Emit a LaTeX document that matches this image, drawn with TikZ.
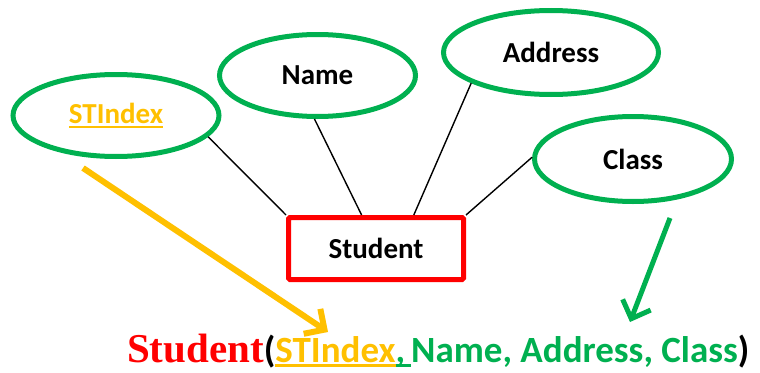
\documentclass[tikz,border=0pt]{standalone}
\usepackage{fontspec}
\setmainfont{Carlito}
\newfontfamily\redserif{Liberation Serif}
\usetikzlibrary{shapes.geometric,arrows.meta,calc}
\definecolor{ergreen}{HTML}{00B050}
\definecolor{eryellow}{HTML}{FFC000}
\definecolor{erred}{HTML}{FF0000}
\newsavebox\ulbox
\newcommand\ulin[2]{\sbox\ulbox{#2}\rlap{\color{#1}\rule[-5pt]{\wd\ulbox}{2.6pt}}\usebox\ulbox}
\begin{document}
\begin{tikzpicture}[x=1pt,y=-1pt,
  attr/.style={ellipse,draw=ergreen,line width=5pt,inner sep=0pt,font=\fontsize{29}{32}\selectfont\bfseries},
  entity/.style={rectangle,draw=erred,line width=5pt,rounded corners=1.5pt,inner sep=0pt,minimum width=175pt,minimum height=62pt,font=\fontsize{29}{32}\selectfont\bfseries},
  link/.style={line width=1.4pt,black},
  bigarrow/.style={line width=#1,-{Straight Barb[length=15pt,width=30pt]}}]
\useasboundingbox (0,0) rectangle (760,372);
\node[attr,minimum width=206pt,minimum height=82pt] (sti) at (116,115.5) {\ulin{eryellow}{\color{eryellow}STIndex}};
\node[attr,minimum width=196pt,minimum height=82pt] (nm) at (317.5,75.5) {Name};
\node[attr,minimum width=215pt,minimum height=84pt] (adr) at (551,52.5) {Address};
\node[attr,minimum width=197pt,minimum height=85pt] (cls) at (633,159) {Class};
\node[entity] (st) at (376,248.5) {Student};
\coordinate (nmend) at ($(st.north west)!0.42!(st.north east)$);
\coordinate (adrend) at ($(st.north west)!0.71!(st.north east)$);
\draw[link] (sti.-13) -- (st.north west);
\draw[link] (nm.-94) -- (nmend);
\draw[link] (adr.-159) -- (adrend);
\draw[link] (cls.179) -- (st.north east);
\node[anchor=base west,inner sep=0pt,font=\fontsize{37}{42}\selectfont\bfseries] (rel) at (127,362)
  {{\redserif\fontsize{41}{45}\selectfont\color{erred}Student}{\color{black}(}\ulin{eryellow}{\color{eryellow}STIndex}\ulin{ergreen}{\color{ergreen},\,}{\color{ergreen}Name, Address, Class}{\color{black})}};
\coordinate (ya) at (83,168);
\coordinate (yb) at (328,332);
\coordinate (ga) at (670,218);
\coordinate (gb) at (630,322);
\draw[bigarrow=6pt,eryellow] (ya) -- (yb);
\draw[bigarrow=5pt,ergreen] (ga) -- (gb);
\end{tikzpicture}
\end{document}
